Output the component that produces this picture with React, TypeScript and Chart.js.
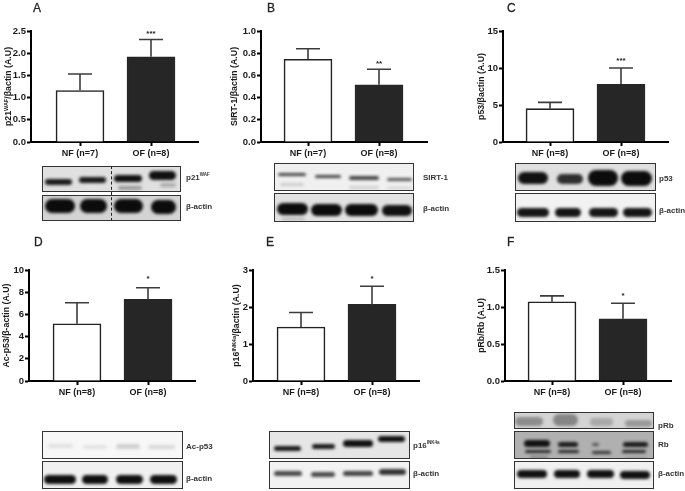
import React, { useEffect, useRef } from "react";
import { Chart, registerables } from "chart.js";

Chart.register(...registerables);

const categoriesN7 = ["NF (n=7)", "OF (n=8)"];
const categoriesN8 = ["NF (n=8)", "OF (n=8)"];

const valuesA = [1.16, 1.92];
const errorsA = [0.37, 0.39];
const valuesB = [0.745, 0.515];
const errorsB = [0.095, 0.14];
const valuesC = [4.5, 7.8];
const errorsC = [0.85, 2.2];
const valuesD = [5.15, 7.35];
const errorsD = [1.9, 1.05];
const valuesE = [1.46, 2.07];
const errorsE = [0.39, 0.49];
const valuesF = [1.07, 0.84];
const errorsF = [0.08, 0.21];

const ticksA = [0, 0.5, 1, 1.5, 2, 2.5];
const ticksB = [0, 0.2, 0.4, 0.6, 0.8, 1];
const ticksC = [0, 5, 10, 15];
const ticksD = [0, 2, 4, 6, 8, 10];
const ticksE = [0, 1, 2, 3];
const ticksF = [0, 0.5, 1, 1.5];

type Run = { t: string; sup?: boolean };

const panels = [
  { letter: "A", lx: 33, ly: 1, axisX: 31, top: 31, bottom: 142, xEnd: 198, c1: 80, c2: 151, cats: categoriesN7, values: valuesA, errors: errorsA, ticks: ticksA, decimals: 1, stars: "***", starY: 33, titleX: 9, title: [{ t: "p21" }, { t: "WAF", sup: true }, { t: "/βactin (A.U)" }] as Run[] },
  { letter: "B", lx: 267, ly: 1, axisX: 261, top: 31, bottom: 142, xEnd: 427, c1: 308, c2: 379, cats: categoriesN7, values: valuesB, errors: errorsB, ticks: ticksB, decimals: 1, stars: "**", starY: 63, titleX: 235, title: [{ t: "SIRT-1/βactin (A.U)" }] as Run[] },
  { letter: "C", lx: 507, ly: 1, axisX: 503, top: 31, bottom: 142, xEnd: 668, c1: 550, c2: 621, cats: categoriesN8, values: valuesC, errors: errorsC, ticks: ticksC, decimals: 0, stars: "***", starY: 60, titleX: 482, title: [{ t: "p53/βactin (A.U)" }] as Run[] },
  { letter: "D", lx: 34, ly: 235, axisX: 29, top: 270, bottom: 381, xEnd: 195, c1: 77, c2: 148, cats: categoriesN8, values: valuesD, errors: errorsD, ticks: ticksD, decimals: 0, stars: "*", starY: 278, titleX: 7, title: [{ t: "Ac-p53/β-actin (A.U)" }] as Run[] },
  { letter: "E", lx: 266, ly: 235, axisX: 253, top: 270, bottom: 381, xEnd: 419, c1: 301, c2: 372, cats: categoriesN8, values: valuesE, errors: errorsE, ticks: ticksE, decimals: 0, stars: "*", starY: 278, titleX: 237, title: [{ t: "p16" }, { t: "INK4a", sup: true }, { t: "/βactin (A.U)" }] as Run[] },
  { letter: "F", lx: 507, ly: 235, axisX: 505, top: 270, bottom: 381, xEnd: 671, c1: 552, c2: 623, cats: categoriesN8, values: valuesF, errors: errorsF, ticks: ticksF, decimals: 1, stars: "*", starY: 295, titleX: 482, title: [{ t: "pRb/Rb (A.U)" }] as Run[] },
];

const FONT = "'Liberation Sans', Arial, sans-serif";
const MARGIN_LEFT = 36;
const MARGIN_TOP = 8;
const MARGIN_BOTTOM = 22;
const MARGIN_RIGHT = 4;

const decorPlugin = {
  id: "decor",
  afterDatasetsDraw(chart: any, _a: any, opts: any) {
    const { ctx, scales } = chart;
    const meta = chart.getDatasetMeta(0);
    ctx.save();
    // error bars
    opts.errors.forEach((err: number, i: number) => {
      const x = meta.data[i].x;
      const y0 = scales.y.getPixelForValue(opts.values[i]);
      const y1 = scales.y.getPixelForValue(opts.values[i] + err);
      ctx.strokeStyle = "#3c3c3c";
      ctx.lineWidth = 1.6;
      ctx.beginPath();
      ctx.moveTo(x, y0);
      ctx.lineTo(x, y1);
      ctx.moveTo(x - 12, y1);
      ctx.lineTo(x + 12, y1);
      ctx.stroke();
    });
    // significance stars
    ctx.fillStyle = "#222";
    ctx.font = `bold 8px ${FONT}`;
    ctx.textAlign = "center";
    ctx.textBaseline = "middle";
    ctx.fillText(opts.stars, meta.data[1].x, opts.starY - opts.canvasTop + 1);
    // y title with superscripts
    ctx.translate(opts.titleX - opts.canvasLeft, (opts.plotTop + opts.plotBottom) / 2 - opts.canvasTop);
    ctx.rotate(-Math.PI / 2);
    ctx.textBaseline = "middle";
    ctx.textAlign = "left";
    const fontOf = (r: Run) => `bold ${r.sup ? 5.5 : 8.8}px ${FONT}`;
    let total = 0;
    opts.title.forEach((r: Run) => {
      ctx.font = fontOf(r);
      total += ctx.measureText(r.t).width;
    });
    let x = -total / 2;
    ctx.fillStyle = "#1a1a1a";
    opts.title.forEach((r: Run) => {
      ctx.font = fontOf(r);
      ctx.fillText(r.t, x, r.sup ? -2.5 : 0);
      x += ctx.measureText(r.t).width;
    });
    ctx.restore();
  },
};

function Panel({ p }: { p: (typeof panels)[number] }) {
  const ref = useRef<HTMLCanvasElement>(null);
  const canvasLeft = p.axisX - MARGIN_LEFT;
  const canvasTop = p.top - MARGIN_TOP;
  const width = p.xEnd - p.axisX + MARGIN_LEFT + MARGIN_RIGHT;
  const height = p.bottom - p.top + MARGIN_TOP + MARGIN_BOTTOM;

  useEffect(() => {
    const spacing = p.c2 - p.c1;
    const chart = new Chart(ref.current as HTMLCanvasElement, {
      type: "bar",
      data: {
        datasets: [
          {
            data: p.values.map((v, i) => ({ x: i, y: v })),
            backgroundColor: ["#ffffff", "#262626"],
            borderColor: ["#222222", "#262626"],
            borderWidth: 1.6,
            barThickness: 48,
            borderSkipped: "bottom",
          },
        ],
      },
      plugins: [decorPlugin],
      options: {
        animation: false,
        responsive: false,
        devicePixelRatio: 1,
        layout: { padding: { top: MARGIN_TOP, right: MARGIN_RIGHT, left: 0, bottom: 0 } },
        plugins: {
          legend: { display: false },
          tooltip: { enabled: false },
          decor: {
            errors: p.errors,
            values: p.values,
            stars: p.stars,
            starY: p.starY,
            canvasTop,
            canvasLeft,
            plotTop: p.top,
            plotBottom: p.bottom,
            titleX: p.titleX,
            title: p.title,
          },
        },
        scales: {
          x: {
            type: "linear",
            offset: false,
            min: -(p.c1 - p.axisX) / spacing,
            max: 1 + (p.xEnd - p.c2) / spacing,
            afterBuildTicks: (s: any) => {
              s.ticks = [{ value: 0 }, { value: 1 }];
            },
            afterFit: (s: any) => {
              s.height = MARGIN_BOTTOM;
            },
            border: { display: true, color: "#000", width: 2 },
            grid: { offset: false, drawOnChartArea: false, drawTicks: true, tickLength: 4, tickWidth: 2, tickColor: "#000" },
            ticks: {
              autoSkip: false,
              maxRotation: 0,
              padding: 2,
              color: "#1a1a1a",
              font: { family: FONT, size: 9, weight: "bold" },
              callback: (v: any) => p.cats[v],
            },
          },
          y: {
            min: p.ticks[0],
            max: p.ticks[p.ticks.length - 1],
            afterBuildTicks: (s: any) => {
              s.ticks = p.ticks.map((value) => ({ value }));
            },
            afterFit: (s: any) => {
              s.width = MARGIN_LEFT;
            },
            border: { display: true, color: "#000", width: 2 },
            grid: { drawOnChartArea: false, drawTicks: true, tickLength: 4, tickWidth: 2, tickColor: "#000" },
            ticks: {
              padding: 1,
              color: "#1a1a1a",
              font: { family: FONT, size: 9.5, weight: "bold" },
              callback: (v: any) => Number(v).toFixed(p.decimals),
            },
          },
        },
      } as any,
    } as any);
    return () => chart.destroy();
  }, []);

  return (
    <canvas
      ref={ref}
      width={width}
      height={height}
      style={{ position: "absolute", left: canvasLeft, top: canvasTop, width, height }}
    />
  );
}

type Band = [number, number, number, number, string];
type Strip = { x0: number; x1: number; y0: number; y1: number; bg: string; bands: Band[] };

const strips: Strip[] = [
  { x0: 42, x1: 181, y0: 166, y1: 192, bg: "#e0e0e0", bands: [
    [45, 72, 182, 6, "#1a1a1a"], [79, 106, 180, 6, "#1a1a1a"], [114, 142, 178, 7, "#111"], [118, 142, 188, 4, "#999"], [149, 176, 175, 9, "#111"], [160, 176, 185, 4, "#aaa"],
  ] },
  { x0: 42, x1: 181, y0: 195, y1: 221, bg: "#d4d4d4", bands: [
    [45, 75, 206, 14, "#0c0c0c"], [80, 107, 206, 14, "#0c0c0c"], [114, 143, 206, 14, "#0c0c0c"], [151, 176, 207, 14, "#0c0c0c"],
  ] },
  { x0: 274, x1: 414, y0: 163, y1: 191, bg: "#f0f0f0", bands: [
    [278, 306, 174, 3, "#444"], [315, 341, 176, 3, "#444"], [349, 379, 178, 4, "#444"], [387, 412, 179, 3, "#555"],
    [280, 304, 184, 3, "#ccc"], [349, 379, 187, 3, "#d0d0d0"], [387, 412, 188, 2, "#d0d0d0"],
  ] },
  { x0: 274, x1: 414, y0: 193, y1: 222, bg: "#e2e2e2", bands: [
    [277, 308, 209, 12, "#0c0c0c"], [311, 342, 210, 12, "#0c0c0c"], [345, 378, 210, 12, "#0c0c0c"], [382, 412, 210, 11, "#111"],
    [282, 305, 219, 2, "#aaa"],
  ] },
  { x0: 515, x1: 656, y0: 163, y1: 191, bg: "#e0e0e0", bands: [
    [518, 548, 178, 12, "#111"], [557, 583, 179, 10, "#2e2e2e"], [588, 618, 178, 16, "#0c0c0c"], [621, 652, 178, 15, "#0c0c0c"],
  ] },
  { x0: 515, x1: 656, y0: 193, y1: 222, bg: "#f2f2f2", bands: [
    [517, 549, 212, 9, "#151515"], [555, 581, 212, 9, "#151515"], [589, 618, 212, 9, "#151515"], [623, 652, 212, 9, "#151515"],
  ] },
  { x0: 42, x1: 183, y0: 431, y1: 459, bg: "#f7f7f7", bands: [
    [48, 73, 446, 4, "#e0e0e0"], [83, 107, 447, 4, "#e2e2e2"], [116, 140, 446, 5, "#cfcfcf"], [148, 175, 447, 4, "#d8d8d8"],
  ] },
  { x0: 42, x1: 183, y0: 461, y1: 489, bg: "#f0f0f0", bands: [
    [44, 76, 479, 9, "#0f0f0f"], [82, 108, 479, 9, "#0f0f0f"], [116, 143, 479, 9, "#0f0f0f"], [150, 177, 479, 9, "#0f0f0f"],
  ] },
  { x0: 269, x1: 410, y0: 431, y1: 459, bg: "#e6e6e6", bands: [
    [274, 301, 448, 5, "#1a1a1a"], [312, 335, 446, 5, "#1a1a1a"], [343, 373, 443, 7, "#111"], [378, 405, 439, 6, "#111"],
  ] },
  { x0: 269, x1: 410, y0: 461, y1: 489, bg: "#f2f2f2", bands: [
    [274, 302, 473, 5, "#4a4a4a"], [311, 335, 474, 5, "#4a4a4a"], [343, 373, 473, 5, "#444"], [379, 406, 472, 6, "#333"],
  ] },
  { x0: 514, x1: 654, y0: 412, y1: 429, bg: "#d4d4d4", bands: [
    [515, 543, 421, 9, "#8c8c8c"], [553, 578, 420, 12, "#858585"], [590, 613, 422, 8, "#a8a8a8"], [625, 652, 423, 7, "#999"],
  ] },
  { x0: 514, x1: 654, y0: 431, y1: 459, bg: "#b0b0b0", bands: [
    [524, 550, 443, 7, "#111"], [558, 578, 444, 5, "#1a1a1a"], [592, 599, 444, 3, "#555"], [623, 648, 444, 5, "#1a1a1a"],
    [525, 551, 451, 3, "#222"], [558, 579, 451, 3, "#222"], [592, 611, 452, 3, "#333"], [622, 646, 451, 3, "#222"],
    [530, 548, 457, 2, "#777"], [626, 646, 458, 1, "#777"],
  ] },
  { x0: 514, x1: 654, y0: 461, y1: 489, bg: "#f0f0f0", bands: [
    [517, 547, 474, 8, "#111"], [554, 580, 474, 8, "#111"], [587, 614, 474, 8, "#111"], [620, 650, 475, 8, "#111"],
  ] },
];

type BlotLabel = { x: number; y: number; t: string; sup?: string };
const blotLabels: BlotLabel[] = [
  { x: 186, y: 178, t: "p21", sup: "WAF" },
  { x: 186, y: 207, t: "β-actin" },
  { x: 423, y: 178, t: "SIRT-1" },
  { x: 423, y: 209, t: "β-actin" },
  { x: 659, y: 179, t: "p53" },
  { x: 659, y: 211, t: "β-actin" },
  { x: 186, y: 447, t: "Ac-p53" },
  { x: 186, y: 479, t: "β-actin" },
  { x: 413, y: 446, t: "p16", sup: "INK4a" },
  { x: 413, y: 474, t: "β-actin" },
  { x: 658, y: 426, t: "pRb" },
  { x: 658, y: 445, t: "Rb" },
  { x: 658, y: 474, t: "β-actin" },
];

export default function App() {
  return (
    <div style={{ position: "absolute", left: 0, top: 0, width: 685, height: 491, overflow: "hidden", background: "#fff", filter: "blur(0.4px)" }}>
      {panels.map((p) => (
        <div key={p.letter} style={{ position: "absolute", left: p.lx, top: p.ly, font: `normal 12px ${FONT}`, WebkitTextStroke: "0.3px #222", color: "#222", lineHeight: "14px", opacity: 0.99 }}>
          {p.letter}
        </div>
      ))}
      {panels.map((p) => (
        <Panel key={p.letter} p={p} />
      ))}
      {strips.map((s, i) => (
        <div key={i} style={{ position: "absolute", left: s.x0, top: s.y0, width: s.x1 - s.x0, height: s.y1 - s.y0, boxSizing: "border-box", border: "1px solid #333", background: s.bg, overflow: "hidden" }}>
          {s.bands.map((b, j) => (
            <div key={j} style={{ position: "absolute", left: b[0] - s.x0 - 1, top: b[2] - b[3] / 2 - s.y0 - 1, width: b[1] - b[0], height: b[3], background: b[4], borderRadius: b[3] / 2, filter: "blur(1.6px)" }} />
          ))}
        </div>
      ))}
      <div style={{ position: "absolute", left: 111, top: 166, height: 55, borderLeft: "1px dashed #222" }} />
      {blotLabels.map((l, i) => (
        <div key={i} style={{ position: "absolute", left: l.x, top: l.y - 6, font: `bold 8px ${FONT}`, color: "#333", lineHeight: "12px", whiteSpace: "nowrap", opacity: 0.99, willChange: "transform" }}>
          {l.t}
          {l.sup ? <sup style={{ fontSize: 4.5, lineHeight: 0 }}>{l.sup}</sup> : null}
        </div>
      ))}
    </div>
  );
}
